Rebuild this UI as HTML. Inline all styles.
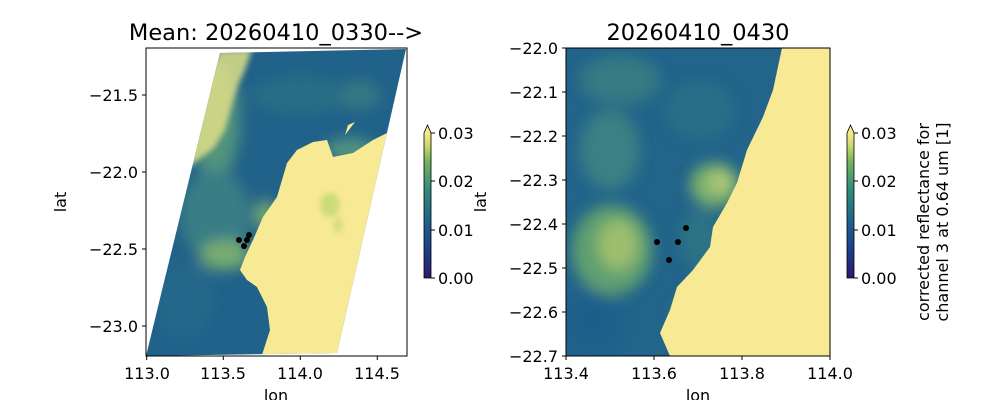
<!DOCTYPE html>
<html><head><meta charset="utf-8"><style>
body{margin:0;background:#fff;}
svg{display:block;font-family:"DejaVu Sans","Liberation Sans",sans-serif;}
</style></head><body>
<svg width="1000" height="400" viewBox="0 0 1000 400" xmlns="http://www.w3.org/2000/svg">
<defs>
<linearGradient id="cb" x1="0" y1="1" x2="0" y2="0">
<stop offset="0" stop-color="#281b6a"/>
<stop offset="0.2" stop-color="#1d3f8c"/>
<stop offset="0.4" stop-color="#1f6489"/>
<stop offset="0.6" stop-color="#2e8a7c"/>
<stop offset="0.8" stop-color="#72b35c"/>
<stop offset="0.92" stop-color="#cfdc6c"/>
<stop offset="1" stop-color="#f6e98f"/>
</linearGradient>
<filter id="bl" x="-50%" y="-50%" width="200%" height="200%"><feGaussianBlur stdDeviation="7"/></filter>
<filter id="bl2" x="-50%" y="-50%" width="200%" height="200%"><feGaussianBlur stdDeviation="3"/></filter>
<clipPath id="cl"><polygon points="220,53 406,49 337,353 146,356"/></clipPath>
<clipPath id="cr"><rect x="566" y="48" width="264" height="308"/></clipPath>
</defs>

<!-- LEFT PANEL -->
<g clip-path="url(#cl)">
<rect x="140" y="45" width="270" height="315" fill="#21628a"/>
<g filter="url(#bl)" opacity="0.8">
<ellipse cx="215" cy="120" rx="25" ry="60" fill="#5fa07a"/>
<ellipse cx="215" cy="215" rx="35" ry="45" fill="#3f8584"/>
<ellipse cx="225" cy="255" rx="25" ry="15" fill="#8fbf6a"/>
<ellipse cx="265" cy="215" rx="10" ry="15" fill="#8fbf6a"/>
<ellipse cx="350" cy="150" rx="25" ry="12" fill="#5ea07a"/>
<ellipse cx="300" cy="95" rx="50" ry="20" fill="#2a7084"/>
<ellipse cx="360" cy="95" rx="20" ry="15" fill="#3a7f82"/>
<ellipse cx="185" cy="300" rx="30" ry="40" fill="#27698a"/>
</g>
<polygon points="220,50 252,50 245,70 238,85 232,105 225,130 214,148 198,160 185,170 190,120 205,80" fill="#e0df88" filter="url(#bl2)" opacity="0.85"/>
<polygon points="313,142 297,150 287,163 277,197 263,217 253,240 245,257 240,270 247,280 257,287 267,307 270,330 262,355 345,360 410,130 387,133 373,140 353,153 333,157 327,140" fill="#f8ea95"/>
<g filter="url(#bl2)" opacity="0.7">
<ellipse cx="330" cy="205" rx="10" ry="12" fill="#b9d46a"/>
<ellipse cx="338" cy="225" rx="5" ry="8" fill="#c7da72"/>
</g>
<polygon points="348,125 355,122 345,135" fill="#f8ea95"/>
</g>
<rect x="146" y="48" width="261" height="308" fill="none" stroke="#000" stroke-width="1"/>
<g fill="#000"><circle cx="239" cy="240" r="3"/><circle cx="249" cy="235" r="3"/><circle cx="247" cy="240" r="3"/><circle cx="244" cy="246" r="3"/></g>
<g stroke="#000" stroke-width="1">
<line x1="146.7" y1="356" x2="146.7" y2="360"/><line x1="223.3" y1="356" x2="223.3" y2="360"/><line x1="300.3" y1="356" x2="300.3" y2="360"/><line x1="377.3" y1="356" x2="377.3" y2="360"/>
<line x1="142" y1="95" x2="146" y2="95"/><line x1="142" y1="172" x2="146" y2="172"/><line x1="142" y1="249" x2="146" y2="249"/><line x1="142" y1="326" x2="146" y2="326"/>
</g>
<g font-size="16" fill="#000">
<g text-anchor="middle"><text x="147" y="379">113.0</text><text x="223" y="379">113.5</text><text x="300" y="379">114.0</text><text x="377" y="379">114.5</text><text x="276" y="401">lon</text></g>
<g text-anchor="end"><text x="138" y="101">−21.5</text><text x="138" y="178">−22.0</text><text x="138" y="255">−22.5</text><text x="138" y="332">−23.0</text></g>
<text transform="translate(66,202) rotate(-90)" text-anchor="middle">lat</text>
</g>
<text x="276" y="40" font-size="22.5" text-anchor="middle">Mean: 20260410_0330--&gt;</text>

<!-- left colorbar -->
<rect x="424" y="133" width="7" height="145" fill="url(#cb)"/>
<polygon points="424,133 427.5,125 431,133" fill="#f6e98f"/>
<polygon points="424,278 424,133 427.5,125 431,133 431,278" fill="none" stroke="#000" stroke-width="0.8"/>
<g stroke="#000"><line x1="431" y1="133" x2="435" y2="133"/><line x1="431" y1="181" x2="435" y2="181"/><line x1="431" y1="230" x2="435" y2="230"/><line x1="431" y1="278" x2="435" y2="278"/></g>
<g font-size="16"><text x="438" y="139">0.03</text><text x="438" y="187">0.02</text><text x="438" y="236">0.01</text><text x="438" y="284">0.00</text></g>
<text transform="translate(486,202) rotate(-90)" text-anchor="middle" font-size="16">lat</text>

<!-- RIGHT PANEL -->
<g clip-path="url(#cr)">
<rect x="566" y="48" width="264" height="308" fill="#22648a"/>
<g filter="url(#bl)" opacity="0.85">
<ellipse cx="612" cy="250" rx="40" ry="45" fill="#6aaa6c"/>
<ellipse cx="618" cy="245" rx="20" ry="25" fill="#b2cf6a"/>
<ellipse cx="715" cy="185" rx="25" ry="22" fill="#8cbf66"/>
<ellipse cx="720" cy="182" rx="10" ry="10" fill="#d0dc78"/>
<ellipse cx="610" cy="150" rx="30" ry="40" fill="#3f8583"/>
<ellipse cx="620" cy="80" rx="40" ry="25" fill="#3a7e83"/>
<ellipse cx="700" cy="110" rx="35" ry="30" fill="#2a6f87"/>
<ellipse cx="700" cy="240" rx="20" ry="30" fill="#2f7684"/>
<ellipse cx="690" cy="320" rx="15" ry="25" fill="#4d947a"/>
<ellipse cx="590" cy="320" rx="30" ry="30" fill="#1f5f8a"/>
</g>
<polygon points="782,48 773,90 763,117 747,150 737,183 727,203 713,227 710,247 693,270 677,287 670,310 660,333 670,356 830,356 830,48" fill="#f8ea95"/>
<polygon points="663,330 672,325 675,338 665,340" fill="#f8ea95"/>
</g>
<rect x="566" y="48" width="264" height="308" fill="none" stroke="#000" stroke-width="1"/>
<g fill="#000"><circle cx="686" cy="228" r="3"/><circle cx="657" cy="242" r="3"/><circle cx="678" cy="242" r="3"/><circle cx="669" cy="260" r="3"/></g>
<g stroke="#000" stroke-width="1">
<line x1="566" y1="356" x2="566" y2="360"/><line x1="654" y1="356" x2="654" y2="360"/><line x1="742" y1="356" x2="742" y2="360"/><line x1="830" y1="356" x2="830" y2="360"/>
<line x1="562" y1="48" x2="566" y2="48"/><line x1="562" y1="92" x2="566" y2="92"/><line x1="562" y1="136" x2="566" y2="136"/><line x1="562" y1="180" x2="566" y2="180"/><line x1="562" y1="224" x2="566" y2="224"/><line x1="562" y1="268" x2="566" y2="268"/><line x1="562" y1="312" x2="566" y2="312"/><line x1="562" y1="356" x2="566" y2="356"/>
</g>
<g font-size="16" fill="#000">
<g text-anchor="middle"><text x="566" y="379">113.4</text><text x="654" y="379">113.6</text><text x="742" y="379">113.8</text><text x="830" y="379">114.0</text><text x="698" y="401">lon</text></g>
<g text-anchor="end"><text x="558" y="54">−22.0</text><text x="558" y="98">−22.1</text><text x="558" y="142">−22.2</text><text x="558" y="186">−22.3</text><text x="558" y="230">−22.4</text><text x="558" y="274">−22.5</text><text x="558" y="318">−22.6</text><text x="558" y="362">−22.7</text></g>
</g>
<text x="698" y="40" font-size="22.5" text-anchor="middle">20260410_0430</text>

<!-- right colorbar -->
<rect x="847" y="133" width="7" height="145" fill="url(#cb)"/>
<polygon points="847,133 850.5,125 854,133" fill="#f6e98f"/>
<polygon points="847,278 847,133 850.5,125 854,133 854,278" fill="none" stroke="#000" stroke-width="0.8"/>
<g stroke="#000"><line x1="854" y1="133" x2="858" y2="133"/><line x1="854" y1="181" x2="858" y2="181"/><line x1="854" y1="230" x2="858" y2="230"/><line x1="854" y1="278" x2="858" y2="278"/></g>
<g font-size="16"><text x="861" y="139">0.03</text><text x="861" y="187">0.02</text><text x="861" y="236">0.01</text><text x="861" y="284">0.00</text></g>
<text transform="translate(929,222) rotate(-90)" text-anchor="middle" font-size="16">corrected reflectance for</text>
<text transform="translate(948,222) rotate(-90)" text-anchor="middle" font-size="16">channel 3 at 0.64 um [1]</text>
</svg>
</body></html>
